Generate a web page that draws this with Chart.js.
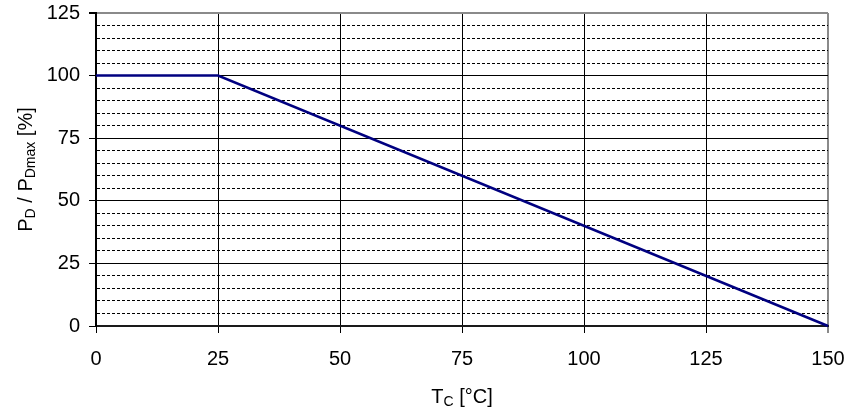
<!DOCTYPE html>
<html>
<head>
<meta charset="utf-8">
<script src="https://cdn.jsdelivr.net/npm/chart.js@4/dist/chart.umd.min.js"></script>
<style>
  html, body { margin: 0; padding: 0; background: #ffffff; }
  #wrap { width: 846px; height: 412px; }
</style>
</head>
<body>
<div id="wrap"><canvas id="derating" width="846" height="412"></canvas></div>
<script>
// Power derating curve: allowed dissipation versus case temperature
const caseTemp = [0, 25, 150];          // T_C [°C]
const powerPct = [100, 100, 0];         // P_D / P_Dmax [%]
const xTickValues = [0, 25, 50, 75, 100, 125, 150];
const yMajorValues = [0, 25, 50, 75, 100, 125];

const FONT = "'Liberation Sans', Arial, Helvetica, sans-serif";
Chart.defaults.font.family = FONT;
Chart.defaults.color = '#000000';

// Axis titles with subscripts, drawn as runs of text
function drawRuns(ctx, runs, startX, baseY) {
  let x = startX;
  for (const r of runs) {
    ctx.font = r.size + 'px ' + FONT;
    ctx.fillText(r.text, x, baseY + (r.shift || 0));
    x += ctx.measureText(r.text).width;
  }
}
function runsWidth(ctx, runs) {
  let w = 0;
  for (const r of runs) {
    ctx.font = r.size + 'px ' + FONT;
    w += ctx.measureText(r.text).width;
  }
  return w;
}

const axisTitles = {
  id: 'axisTitles',
  afterDraw(chart) {
    const ctx = chart.ctx;
    const area = chart.chartArea;
    ctx.save();
    ctx.fillStyle = '#000000';
    ctx.textBaseline = 'alphabetic';
    ctx.textAlign = 'left';

    const xRuns = [
      { text: 'T', size: 20 },
      { text: 'C', size: 14, shift: 3 },
      { text: ' [°C]', size: 20 }
    ];
    const xw = runsWidth(ctx, xRuns);
    drawRuns(ctx, xRuns, (area.left + area.right) / 2 - xw / 2, 403);

    const yRuns = [
      { text: 'P', size: 20 },
      { text: 'D', size: 14, shift: 3 },
      { text: ' / P', size: 20 },
      { text: 'Dmax', size: 14, shift: 3 },
      { text: ' [%]', size: 20 }
    ];
    const yw = runsWidth(ctx, yRuns);
    ctx.translate(32, (area.top + area.bottom) / 2);
    ctx.rotate(-Math.PI / 2);
    drawRuns(ctx, yRuns, -yw / 2, 0);
    ctx.restore();
  }
};

const points = caseTemp.map((t, i) => ({ x: t, y: powerPct[i] }));

new Chart(document.getElementById('derating'), {
  type: 'line',
  data: {
    datasets: [{
      data: points,
      borderColor: '#000080',
      borderWidth: 2.5,
      pointRadius: 0,
      tension: 0,
      fill: false,
      clip: 4
    }]
  },
  options: {
    responsive: false,
    animation: false,
    devicePixelRatio: 1,
    layout: { padding: { left: 0, top: 13, right: 18, bottom: 0 } },
    plugins: {
      legend: { display: false },
      tooltip: { enabled: false }
    },
    scales: {
      x: {
        type: 'linear',
        min: 0,
        max: 150,
        afterBuildTicks(scale) {
          scale.ticks = xTickValues.map(v => ({ value: v }));
        },
        afterFit(scale) {
          scale.height = 86;
          scale.paddingLeft = 0;
          scale.paddingRight = 0;
        },
        ticks: {
          font: { size: 20 },
          color: '#000000',
          padding: 14,
          maxRotation: 0,
          autoSkip: false
        },
        grid: {
          color: c => (c.tick && c.tick.value === 150) ? '#8a8a8a' : '#000000',
          lineWidth: c => (c.tick && c.tick.value === 150) ? 2 : 1,
          tickLength: 7,
          tickColor: c => (c.tick && c.tick.value === 150) ? '#8a8a8a' : '#000000'
        },
        border: { color: '#1a1a1a', width: 2 }
      },
      y: {
        type: 'linear',
        min: 0,
        max: 125,
        ticks: {
          stepSize: 5,
          autoSkip: false,
          font: { size: 20 },
          color: '#000000',
          padding: 9,
          callback: v => (yMajorValues.includes(v) ? String(v) : '')
        },
        afterFit(scale) {
          scale.width = 96;
          scale.paddingTop = 0;
          scale.paddingBottom = 0;
        },
        grid: {
          color: c => {
            if (!c.tick) return '#000000';
            if (c.tick.value === 125) return '#8a8a8a';
            return '#000000';
          },
          lineWidth: c => (c.tick && c.tick.value === 125) ? 2 : 1,
          tickLength: 7,
          tickColor: c => (c.tick && c.tick.value % 25 === 0) ? '#000000' : 'rgba(0,0,0,0)'
        },
        border: {
          color: '#000000',
          width: 2,
          dash: c => (c.tick && c.tick.value % 25 !== 0) ? [3, 2] : []
        }
      }
    }
  },
  plugins: [axisTitles]
});
</script>
</body>
</html>
